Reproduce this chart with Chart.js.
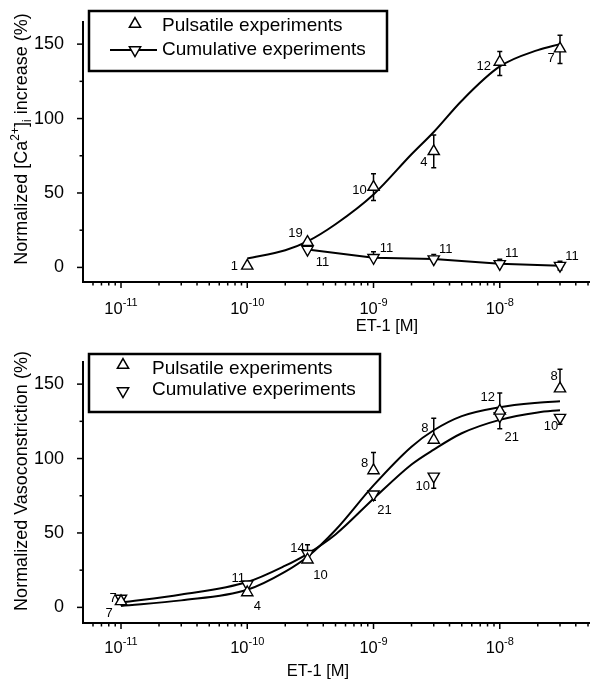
<!DOCTYPE html>
<html>
<head>
<meta charset="utf-8">
<title>ET-1 dose response</title>
<script src="https://cdn.jsdelivr.net/npm/chart.js@4.4.1/dist/chart.umd.min.js"></script>
<style>
  html, body { margin: 0; padding: 0; background: #fff; }
  canvas { display: block; }
</style>
</head>
<body>
<canvas id="caChart" width="597" height="340"></canvas>
<canvas id="vasoChart" width="597" height="343"></canvas>
<script>
// ---- [Ca2+]i panel ----
const caPulsDose = [1e-10, 3e-10, 1e-9, 3e-9, 1e-8, 3e-8];
const caPulsMean = [1, 17, 54, 78, 138, 147];
const caPulsErrUp = [0, 2, 9, 11, 7, 9];
const caPulsErrDown = [0, 2, 9, 11, 9, 10];
const caPulsN = ['1', '19', '10', '4', '12', '7'];

const caCumDose = [3e-10, 1e-9, 3e-9, 1e-8, 3e-8];
const caCumMean = [12, 6.5, 5.6, 2.4, 1.2];
const caCumErrUp = [2, 4, 3, 3, 3];
const caCumErrDown = [0, 0, 0, 0, 3];
const caCumN = ['11', '11', '11', '11', '11'];

const caFitDose = [1e-10, 2e-10, 3e-10, 5e-10, 1e-9, 2e-9, 3e-9, 5e-9, 1e-8, 2e-8, 3e-8];
const caFitPuls = [6, 11.5, 17.5, 29, 49, 76, 91, 112, 135, 146, 150];

// ---- vasoconstriction panel ----
const vasoDose = [1e-11, 1e-10, 3e-10, 1e-9, 3e-9, 1e-8, 3e-8];
const vasoPulsMean = [4, 10, 32, 92, 112.5, 132, 147];
const vasoPulsErrUp = [3, 0, 10, 12, 14.5, 12, 13];
const vasoPulsN = ['7', '4', '10', '8', '8', '12', '8'];
const vasoCumMean = [6, 15.5, 36, 76, 88, 128.5, 127.5];
const vasoCumErrDown = [0, 0, 0, 4, 8, 8.5, 4.5];
const vasoCumN = ['7', '11', '14', '21', '10', '21', '10'];

const vasoFitDose = [1e-11, 3e-11, 1e-10, 2e-10, 3e-10, 5e-10, 1e-9, 2e-9, 3e-9, 5e-9, 1e-8, 2e-8, 3e-8];
const vasoFitPuls = [1, 4.7, 11.8, 24, 34, 52, 82, 108, 119, 128.5, 134.5, 137.5, 138.5];
const vasoFitCum = [3.2, 8.6, 17, 28, 36, 49, 73, 96, 106, 117, 126, 131, 132.5];

// axis ticks
const decades = [-11, -10, -9, -8];
const yMajor = [0, 50, 100, 150];
const yMinor = [25, 75, 125];

const FONT = "'Liberation Sans', Arial, Helvetica, sans-serif";

function pts(xs, ys) {
    return xs.map((x, i) => ({ x: x, y: ys[i] }));
}

function drawTri(ctx, x, y, r, rotDeg) {
    let rad = rotDeg * Math.PI / 180;
    ctx.beginPath();
    for (let k = 0; k < 3; k++) {
        const px = x + Math.sin(rad) * r, py = y - Math.cos(rad) * r;
        if (k) ctx.lineTo(px, py); else ctx.moveTo(px, py);
        rad += 2 * Math.PI / 3;
    }
    ctx.closePath();
    ctx.fillStyle = '#fff';
    ctx.fill();
    ctx.stroke();
}

// text with super/subscript pieces, centred on cx, alphabetic baseline at by
function drawRich(ctx, parts, cx, by, size, small, raise, drop) {
    let w = 0;
    parts.forEach(p => {
        ctx.font = (p.sup || p.sub ? small : size) + 'px ' + FONT;
        p.w = ctx.measureText(p.t).width;
        w += p.w;
    });
    let xx = cx - w / 2;
    ctx.textAlign = 'left';
    ctx.textBaseline = 'alphabetic';
    parts.forEach(p => {
        ctx.font = (p.sup || p.sub ? small : size) + 'px ' + FONT;
        ctx.fillText(p.t, xx, by + (p.sup ? -raise : p.sub ? drop : 0));
        xx += p.w;
    });
}

const axisDecor = {
    id: 'axisDecor',
    afterDraw(chart, args, o) {
        const { ctx, chartArea: a, scales: { x, y } } = chart;
        ctx.save();
        ctx.strokeStyle = '#000';
        ctx.fillStyle = '#000';
        ctx.lineWidth = 1.5;
        // log ticks on x
        const e0 = Math.floor(Math.log10(x.min)), e1 = Math.ceil(Math.log10(x.max));
        for (let e = e0; e <= e1; e++) {
            for (let m = 1; m <= 9; m++) {
                const v = m * Math.pow(10, e);
                if (v < x.min * 1.001 || v > x.max) continue;
                const px = x.getPixelForValue(v);
                ctx.beginPath();
                ctx.moveTo(px, a.bottom);
                ctx.lineTo(px, a.bottom + (m === 1 ? 6 : 3.5));
                ctx.stroke();
            }
        }
        // y ticks
        yMajor.concat(yMinor).forEach(v => {
            const py = y.getPixelForValue(v);
            ctx.beginPath();
            ctx.moveTo(a.left, py);
            ctx.lineTo(a.left - (v % 50 === 0 ? 6 : 3.5), py);
            ctx.stroke();
        });
        // decade labels
        decades.forEach(e => {
            const px = x.getPixelForValue(Math.pow(10, e));
            drawRich(ctx, [{ t: '10' }, { t: String(e), sup: true }], px, a.bottom + o.labelDy, 16.5, 11, 8.5, 0);
        });
        // x title
        drawRich(ctx, [{ t: 'ET-1 [M]' }], o.xTitleX, a.bottom + o.xTitleDy, 16.5, 11, 0, 0);
        // y title, rotated
        ctx.translate(20, o.yTitleY);
        ctx.rotate(-Math.PI / 2);
        drawRich(ctx, o.yTitle.map(p => Object.assign({}, p)), 0, 6.5, 18, 12, 8, 4.5);
        ctx.restore();
    }
};

const errorBars = {
    id: 'errorBars',
    beforeDatasetsDraw(chart) {
        const { ctx, scales: { x, y } } = chart;
        ctx.save();
        ctx.strokeStyle = '#000';
        ctx.lineWidth = 1.5;
        chart.data.datasets.forEach(ds => {
            if (!ds.errUp && !ds.errDown) return;
            ds.data.forEach((p, i) => {
                const px = x.getPixelForValue(p.x);
                [[ds.errUp, 1], [ds.errDown, -1]].forEach(([arr, s]) => {
                    if (!arr || !arr[i]) return;
                    const py0 = y.getPixelForValue(p.y);
                    const py1 = y.getPixelForValue(p.y + s * arr[i]);
                    ctx.beginPath();
                    ctx.moveTo(px, py0);
                    ctx.lineTo(px, py1);
                    ctx.moveTo(px - 2.5, py1);
                    ctx.lineTo(px + 2.5, py1);
                    ctx.stroke();
                });
            });
        });
        ctx.restore();
    }
};

const nLabels = {
    id: 'nLabels',
    afterDatasetsDraw(chart) {
        const ctx = chart.ctx;
        ctx.save();
        ctx.fillStyle = '#000';
        ctx.font = '13px ' + FONT;
        ctx.textAlign = 'center';
        ctx.textBaseline = 'middle';
        chart.data.datasets.forEach((ds, di) => {
            if (!ds.nLabels) return;
            const meta = chart.getDatasetMeta(di);
            meta.data.forEach((el, i) => {
                const off = ds.nOffsets[i];
                ctx.fillText(ds.nLabels[i], el.x + off[0], el.y + off[1]);
            });
        });
        ctx.restore();
    }
};

const boxLegend = {
    id: 'boxLegend',
    afterDraw(chart, args, o) {
        const ctx = chart.ctx;
        ctx.save();
        const [bx, by, bw, bh] = o.box;
        ctx.fillStyle = '#fff';
        ctx.fillRect(bx, by, bw, bh);
        ctx.strokeStyle = '#000';
        ctx.lineWidth = 2.5;
        ctx.strokeRect(bx, by, bw, bh);
        o.rows.forEach(r => {
            const ds = chart.data.datasets[r.dataset];
            ctx.strokeStyle = '#000';
            if (r.line) {
                ctx.lineWidth = 2;
                ctx.beginPath();
                ctx.moveTo(o.symbolX - 25, r.y);
                ctx.lineTo(o.symbolX + 22, r.y);
                ctx.stroke();
            }
            ctx.lineWidth = 1.5;
            drawTri(ctx, o.symbolX, r.y, 6.5, ds.pointRotation || 0);
            ctx.fillStyle = '#000';
            ctx.font = '19px ' + FONT;
            ctx.textAlign = 'left';
            ctx.textBaseline = 'middle';
            ctx.fillText(ds.label, o.textX, r.textY);
        });
        ctx.restore();
    }
};

function markerSet(label, dose, mean, rot, extra) {
    return Object.assign({
        label: label,
        data: pts(dose, mean),
        pointStyle: 'triangle',
        pointRotation: rot,
        pointRadius: 6.5,
        pointHoverRadius: 6.5,
        pointBackgroundColor: '#fff',
        pointBorderColor: '#000',
        pointBorderWidth: 1.4,
        borderColor: '#000',
        borderWidth: 2,
        showLine: false,
        order: 0
    }, extra);
}

function fitSet(dose, vals) {
    return {
        label: 'fit',
        data: pts(dose, vals),
        showLine: true,
        pointRadius: 0,
        borderColor: '#000',
        borderWidth: 2,
        cubicInterpolationMode: 'monotone',
        order: 2
    };
}

function panelOptions(yMin, bottomPad, extra) {
    return {
        responsive: false,
        animation: false,
        events: [],
        layout: { padding: { top: 10, right: 0, left: 0, bottom: 0 } },
        scales: {
            x: {
                type: 'logarithmic',
                min: 5e-12,
                max: 5.1e-8,
                grid: { display: false },
                border: { display: true, color: '#000', width: 2 },
                ticks: { display: false },
                afterFit: s => { s.height = bottomPad; }
            },
            y: {
                min: yMin,
                max: 165,
                grid: { display: false },
                border: { display: true, color: '#000', width: 2 },
                ticks: { color: '#000', padding: 11, font: { family: FONT, size: 18 } },
                afterBuildTicks: s => { s.ticks = yMajor.map(v => ({ value: v })); },
                afterFit: s => { s.width = 83; }
            }
        },
        plugins: Object.assign({ legend: { display: false }, tooltip: { enabled: false } }, extra)
    };
}

document.addEventListener('DOMContentLoaded', function () {
    new Chart(document.getElementById('caChart'), {
        type: 'scatter',
        data: {
            datasets: [
                markerSet('Pulsatile experiments', caPulsDose, caPulsMean, 0, {
                    errUp: caPulsErrUp, errDown: caPulsErrDown, nLabels: caPulsN,
                    nOffsets: [[-13, 0], [-12, -9], [-14, 3], [-10, 11], [-16, 4], [-9, 10]]
                }),
                markerSet('Cumulative experiments', caCumDose, caCumMean, 180, {
                    showLine: true, tension: 0,
                    errUp: caCumErrUp, errDown: caCumErrDown, nLabels: caCumN,
                    nOffsets: [[15, 13], [13, -9], [12, -10], [12, -10], [12, -9]]
                }),
                fitSet(caFitDose, caFitPuls)
            ]
        },
        options: panelOptions(-9.8, 58, {
            axisDecor: {
                labelDy: 32, xTitleX: 387, xTitleDy: 49, yTitleY: 139,
                yTitle: [{ t: 'Normalized [Ca' }, { t: '2+', sup: true }, { t: ']' }, { t: 'i', sub: true }, { t: ' increase (%)' }]
            },
            boxLegend: {
                box: [89, 11, 298, 60], symbolX: 135, textX: 162,
                rows: [{ dataset: 0, y: 24, textY: 26 }, { dataset: 1, y: 50, textY: 50, line: true }]
            }
        }),
        plugins: [errorBars, nLabels, axisDecor, boxLegend]
    });

    new Chart(document.getElementById('vasoChart'), {
        type: 'scatter',
        data: {
            datasets: [
                markerSet('Pulsatile experiments', vasoDose, vasoPulsMean, 0, {
                    errUp: vasoPulsErrUp, nLabels: vasoPulsN,
                    nOffsets: [[-8, -3], [10, 14], [13, 16], [-9, -7], [-9, -12], [-12, -13], [-6, -12]]
                }),
                markerSet('Cumulative experiments', vasoDose, vasoCumMean, 180, {
                    errDown: vasoCumErrDown, nLabels: vasoCumN,
                    nOffsets: [[-12, 15], [-9, -6], [-10, -5], [11, 16], [-11, 10], [12, 21], [-9, 9]]
                }),
                fitSet(vasoFitDose, vasoFitPuls),
                fitSet(vasoFitDose, vasoFitCum)
            ]
        },
        options: panelOptions(-10.5, 60, {
            axisDecor: {
                labelDy: 30, xTitleX: 318, xTitleDy: 53, yTitleY: 141,
                yTitle: [{ t: 'Normalized Vasoconstriction (%)' }]
            },
            boxLegend: {
                box: [89, 14, 291, 58], symbolX: 123, textX: 152,
                rows: [{ dataset: 0, y: 25, textY: 29 }, { dataset: 1, y: 51, textY: 50 }]
            }
        }),
        plugins: [errorBars, nLabels, axisDecor, boxLegend]
    });
});
</script>
</body>
</html>
